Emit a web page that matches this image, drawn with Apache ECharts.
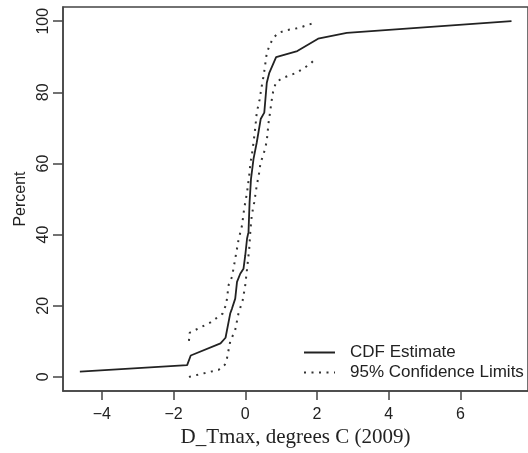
<!DOCTYPE html>
<html>
<head>
<meta charset="utf-8">
<script src="https://cdn.jsdelivr.net/npm/echarts@6/dist/echarts.min.js"></script>
<style>
  html, body { margin: 0; padding: 0; background: #fff; }
  #chart { width: 528px; height: 453px; }
</style>
</head>
<body>
<div id="chart"></div>
<script>
// CDF estimate
const cdfX = [-4.61, -1.62, -1.52, -0.69, -0.55, -0.42, -0.37, -0.28, -0.23, -0.14, -0.05, 0.00, 0.05, 0.09, 0.12, 0.16, 0.23, 0.32, 0.43, 0.53, 0.60, 0.67, 0.86, 1.45, 2.03, 2.83, 7.42];
const cdfY = [1.5, 3.3, 6.0, 9.4, 11.0, 17.8, 19.2, 22.0, 26.7, 29.0, 30.4, 34.2, 38.9, 40.7, 49.1, 55.7, 61.3, 65.9, 72.5, 74.3, 82.7, 85.5, 89.9, 91.6, 95.1, 96.7, 100];
// Upper 95% confidence limit
const upX = [-1.57, -1.55, -0.97, -0.63, -0.53, -0.46, -0.37, -0.28, -0.19, -0.09, -0.03, 0.05, 0.12, 0.14, 0.18, 0.23, 0.28, 0.32, 0.40, 0.46, 0.51, 0.55, 0.60, 0.69, 0.78, 0.92, 1.15, 1.34, 1.52, 1.75, 1.96];
const upY = [10.1, 12.4, 15.3, 17.8, 20.5, 26.0, 28.1, 33.2, 38.4, 42.6, 47.3, 51.9, 57.5, 59.9, 62.2, 65.9, 70.1, 74.3, 78.0, 81.8, 84.6, 87.4, 91.1, 93.5, 95.3, 96.7, 97.5, 97.8, 98.2, 99.0, 99.6];
// Lower 95% confidence limit
const loX = [-1.57, -0.74, -0.57, -0.51, -0.42, -0.28, -0.19, -0.07, 0.00, 0.05, 0.11, 0.14, 0.18, 0.25, 0.32, 0.39, 0.42, 0.55, 0.60, 0.65, 0.69, 0.74, 0.78, 0.86, 1.06, 1.43, 1.80, 1.96];
const loY = [0.0, 2.0, 3.4, 5.2, 9.9, 13.2, 17.8, 21.6, 25.8, 30.4, 36.0, 40.7, 45.4, 49.1, 53.8, 57.5, 59.9, 64.0, 66.4, 71.5, 74.3, 78.0, 80.4, 82.9, 84.1, 85.5, 87.9, 89.5];
// Tick labels
const xTicks = [-4, -2, 0, 2, 4, 6];
const yTicks = [0, 20, 40, 60, 80, 100];

const pairs = (xs, ys) => xs.map((x, i) => [x, ys[i]]);
const sans = "'Liberation Sans', Arial, Helvetica, sans-serif";
const serif = "'Liberation Serif', 'Times New Roman', serif";
const fmt = v => (v < 0 ? '\u2212' + Math.abs(v) : String(v));

const chart = echarts.init(document.getElementById('chart'), null, { renderer: 'canvas' });
chart.setOption({
  animation: false,
  backgroundColor: '#fff',
  grid: {
    left: 63, top: 7, width: 468, height: 386,
    show: true, borderColor: '#444', borderWidth: 1.5, backgroundColor: 'transparent'
  },
  xAxis: {
    type: 'value', min: -5.08, max: 7.88,
    name: 'D_Tmax, degrees C (2009)', nameLocation: 'middle', nameGap: 31,
    nameTextStyle: { fontFamily: serif, fontSize: 21, color: '#222' },
    axisLine: { show: true, onZero: false, lineStyle: { color: '#444', width: 1.5 } },
    splitLine: { show: false },
    axisTick: { show: true, inside: false, length: 9, customValues: xTicks, lineStyle: { color: '#444', width: 1.5 } },
    axisLabel: { show: true, customValues: xTicks, margin: 15, formatter: fmt, fontFamily: sans, fontSize: 16, color: '#222' }
  },
  yAxis: {
    type: 'value', min: -4, max: 104,
    name: 'Percent', nameLocation: 'middle', nameGap: 34, nameRotate: 90,
    nameTextStyle: { fontFamily: sans, fontSize: 16, color: '#222' },
    axisLine: { show: true, onZero: false, lineStyle: { color: '#444', width: 1.5 } },
    splitLine: { show: false },
    axisTick: { show: true, inside: false, length: 10, customValues: yTicks, lineStyle: { color: '#444', width: 1.5 } },
    axisLabel: { show: true, customValues: yTicks, rotate: 90, margin: 11, fontFamily: sans, fontSize: 16, color: '#222' }
  },
  legend: {
    orient: 'vertical', left: 303, top: 344, padding: 0,
    itemWidth: 31, itemHeight: 17, itemGap: 3,
    itemStyle: { opacity: 0 },
    textStyle: { fontFamily: sans, fontSize: 17, color: '#222', padding: [0, 0, 0, 10] },
    data: ['CDF Estimate', '95% Confidence Limits']
  },
  series: [
    {
      name: 'CDF Estimate', type: 'line', data: pairs(cdfX, cdfY),
      symbol: 'none', lineStyle: { color: '#222', width: 1.8 }, itemStyle: { color: '#222' }
    },
    {
      name: '95% Confidence Limits', type: 'line', data: pairs(upX, upY),
      symbol: 'none', lineStyle: { color: '#333', width: 2, type: [2, 5.5] }, itemStyle: { color: '#333' }
    },
    {
      name: '95% Confidence Limits', type: 'line', data: pairs(loX, loY),
      symbol: 'none', lineStyle: { color: '#333', width: 2, type: [2, 5.5] }, itemStyle: { color: '#333' }
    }
  ]
});
</script>
</body>
</html>
